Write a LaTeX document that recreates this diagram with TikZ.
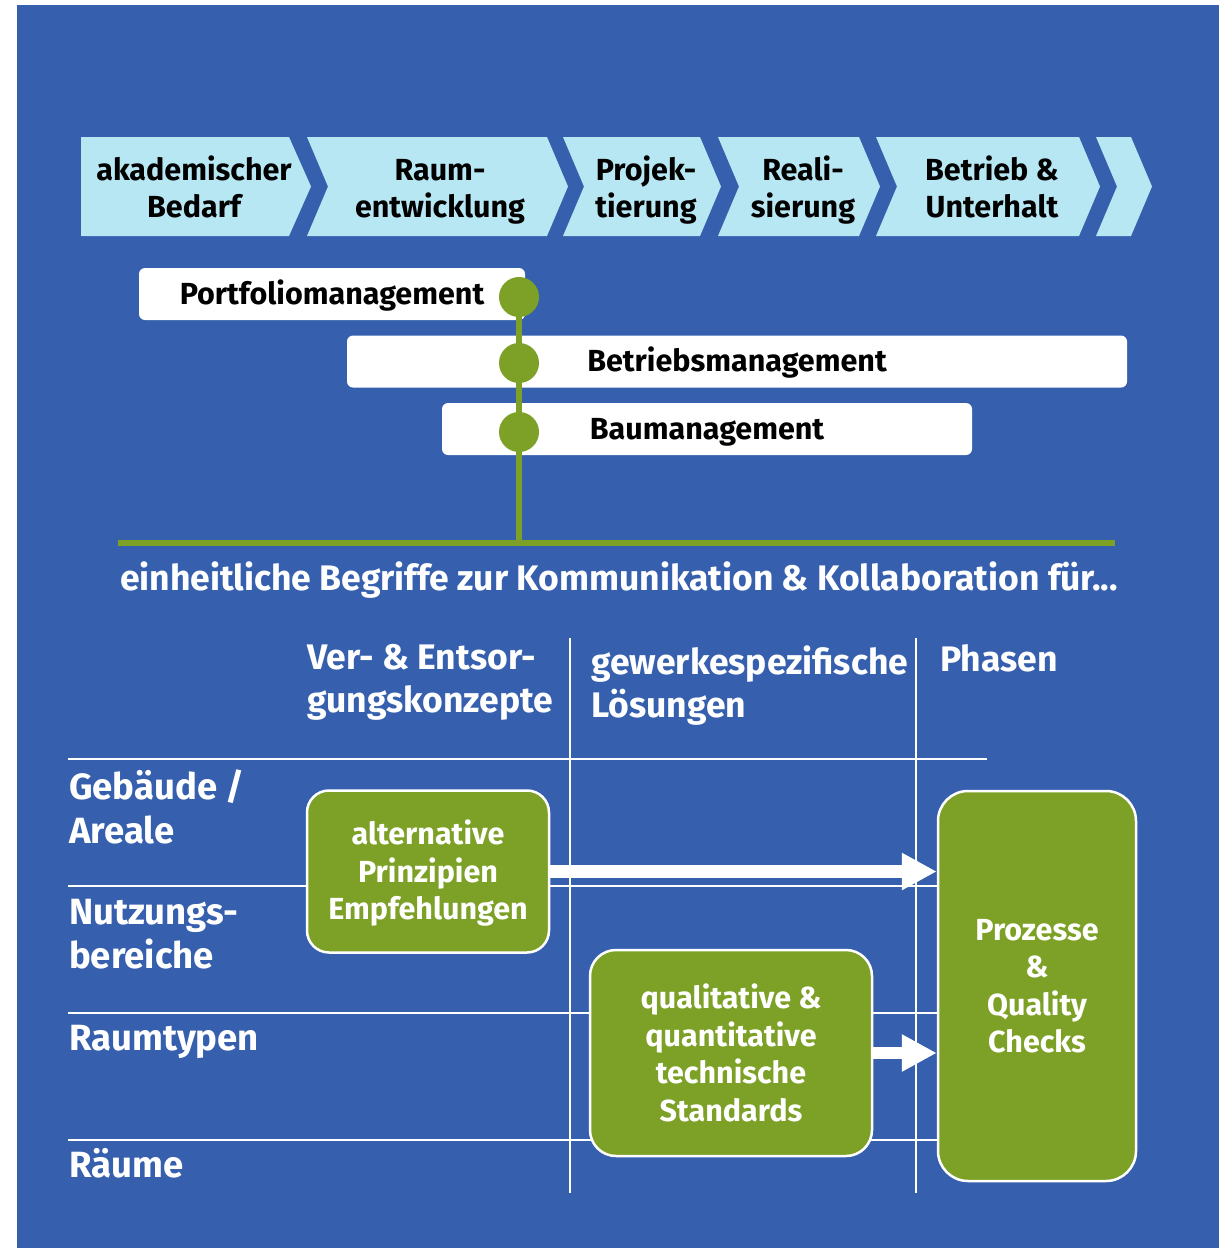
\documentclass[tikz,border=0pt]{standalone}
\usepackage{fontspec}
\setmainfont{Fira Sans}
\usetikzlibrary{arrows.meta}
\definecolor{bgblue}{RGB}{54,95,174}
\definecolor{chevcyan}{RGB}{182,231,243}
\definecolor{dotgreen}{RGB}{124,161,38}
\tikzset{
  chev/.style={fill=chevcyan},
  chevtext/.style={font=\fontsize{30.5}{37}\selectfont\bfseries, align=center, text=black, anchor=base},
  bar/.style={fill=white, rounded corners=6pt, minimum height=52pt, text height=24pt, text depth=4pt, font=\fontsize{30.5}{35}\selectfont\bfseries},
  dot/.style={circle, fill=dotgreen, minimum size=40pt, inner sep=0pt},
  gline/.style={draw=dotgreen, line width=6pt},
  grid/.style={draw=white, line width=2pt},
  head/.style={font=\fontsize{35.5}{43}\selectfont\bfseries, text=white, align=left, inner sep=0pt, anchor=base west},
  rowlab/.style={font=\fontsize{36.5}{44}\selectfont\bfseries, text=white, align=left, inner sep=0pt, anchor=base west},
  gbox/.style={fill=dotgreen, draw=white, line width=2.5pt, rounded corners=22pt, text=white, align=center, font=\fontsize{30.5}{37.5}\selectfont\bfseries},
  bigarrow/.style={draw=white, line width=12.5pt, -{Triangle[length=35pt,width=35pt]}}
}
\begin{document}
\begin{tikzpicture}[x=1pt,y=-1pt]
  \useasboundingbox (0,0) rectangle (1223,1248);
  \fill[bgblue] (17,5) rectangle (1219,1248);

  % phases
  \fill[chev] (81,137) -- (289,137) -- (311,186.5) -- (289,236) -- (81,236) -- cycle;
  \foreach \l/\r in {307/547, 563/700, 718/859, 876/1079, 1096/1131}
    \fill[chev] (\l,137) -- (\r,137) -- ({\r+21},186.5) -- (\r,236) -- (\l,236) -- ({\l+21},186.5) -- cycle;

  \node[chevtext] (bedarf) at (194,217) {akademischer\\Bedarf};
  \node[chevtext] (raum) at (440,217) {Raum-\\entwicklung};
  \node[chevtext] (projekt) at (646,217) {Projek-\\tierung};
  \node[chevtext] (real) at (803,217) {Reali-\\sierung};
  \node[chevtext] (betrieb) at (992,217) {Betrieb \&\\Unterhalt};

  % management bars
  \node[bar, minimum width=386pt] (portfolio) at (332,294) {Portfoliomanagement};
  \node[bar, minimum width=780pt] (betriebsm) at (737,361.5) {Betriebsmanagement};
  \node[bar, minimum width=530pt] (bau) at (707,429) {Baumanagement};

  \coordinate (d1) at (519,297);
  \coordinate (d2) at (519,363);
  \coordinate (d3) at (519,432);
  \coordinate (foot) at (519,543);
  \coordinate (lineL) at (118,543);
  \coordinate (lineR) at (1115,543);
  \draw[gline] (lineL) -- (lineR);
  \draw[gline] (d1) -- (foot);
  \node[dot] (dot1) at (d1) {};
  \node[dot] (dot2) at (d2) {};
  \node[dot] (dot3) at (d3) {};

  \node[font=\fontsize{35.5}{40}\selectfont\bfseries, text=white, anchor=base] (tagline) at (619,590)
    {einheitliche Begriffe zur Kommunikation \& Kollaboration für...};

  % table
  \draw[grid] (68,759) -- (987,759);
  \foreach \y in {886,1013,1140}
    \draw[grid] (68,\y) -- (938,\y);
  \draw[grid, line width=1.5pt] (570,638) -- (570,1193);
  \draw[grid, line width=1.5pt] (916,638) -- (916,1193);

  \node[head] (versorgung) at (307,712) {Ver- \& Entsor-\\gungskonzepte};
  \node[head] (gewerk) at (591,717) {gewerkespezifische\\Lösungen};
  \node[head] (phasen) at (940,671) {Phasen};

  \node[rowlab] (gebaeude) at (69,843) {Gebäude /\\Areale};
  \node[rowlab] (nutzung) at (69,968) {Nutzungs-\\bereiche};
  \node[rowlab] (raumtyp) at (69,1050) {Raumtypen};
  \node[rowlab] (raeume) at (69,1177) {Räume};

  \node[gbox, minimum width=242pt, minimum height=162pt, text depth=3pt] (alt) at (428,871.5)
    {alternative\\Prinzipien\\Empfehlungen};
  \node[gbox, minimum width=282pt, minimum height=206pt, rounded corners=26pt] (qual) at (731,1053)
    {qualitative \&\\quantitative\\technische\\Standards};
  \node[gbox, minimum width=198pt, minimum height=390pt, rounded corners=30pt] (proz) at (1037,986)
    {Prozesse\\\&\\Quality\\Checks};

  \draw[bigarrow] (alt.east) -- (alt.east -| proz.west);
  \draw[bigarrow] (qual.east) -- (qual.east -| proz.west);
\end{tikzpicture}
\end{document}
